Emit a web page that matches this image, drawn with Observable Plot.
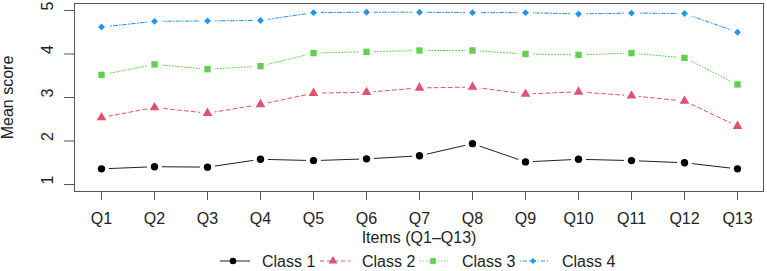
<!DOCTYPE html>
<html><head><meta charset="utf-8">
<script src="https://cdn.jsdelivr.net/npm/d3@7"></script>
<script src="https://cdn.jsdelivr.net/npm/@observablehq/plot@0.6"></script>
<style>
body{margin:0;background:#fff;font-family:"Liberation Sans",Arial,sans-serif;}
#chart svg{display:block;}
</style></head>
<body><div id="chart"></div>
<script>
const items = ["Q1","Q2","Q3","Q4","Q5","Q6","Q7","Q8","Q9","Q10","Q11","Q12","Q13"];
const classes = ["Class 1","Class 2","Class 3","Class 4"];
const class1 = [1.36,1.41,1.40,1.58,1.55,1.59,1.66,1.94,1.52,1.58,1.55,1.50,1.36];
const class2 = [2.54,2.77,2.64,2.84,3.10,3.12,3.22,3.24,3.08,3.13,3.04,2.92,2.34];
const class3 = [3.52,3.76,3.65,3.72,4.02,4.05,4.08,4.08,4.00,3.98,4.02,3.91,3.30];
const class4 = [4.62,4.75,4.76,4.77,4.95,4.96,4.96,4.95,4.95,4.92,4.94,4.93,4.50];
const yTicks = [1,2,3,4,5];
const xTitle = "Items (Q1\u2013Q13)";
const yTitle = "Mean score";

const series = [class1, class2, class3, class4];
const data = classes.flatMap((c, k) => items.map((q, i) => ({cls: c, item: q, value: series[k][i]})));

const styles = {
  "Class 1": {color: "#000000", line: "#222", dash: null, symbol: "circle", r: 3.7},
  "Class 2": {color: "#DF536B", line: "#DF536B", dash: "4,3", symbol: "triangle", r: 3.6},
  "Class 3": {color: "#61D04F", line: "#61D04F", dash: "1,2", symbol: "square", r: 3.6},
  "Class 4": {color: "#2297E6", line: "#2297E6", dash: "1,2,4,2", symbol: "diamond2", r: 3.1}
};
const font = '"Liberation Sans", Arial, sans-serif';

const marks = [Plot.frame({stroke: "#555", strokeWidth: 1})];
for (const c of classes) {
  const s = styles[c];
  marks.push(Plot.line(data.filter(d => d.cls === c), {x: "item", y: "value", stroke: s.line, strokeWidth: 1, strokeDasharray: s.dash}));
}
marks.push(Plot.dot(data, {x: "item", y: "value", r: 7.5, fill: "white", stroke: null}));
for (const c of classes) {
  const s = styles[c];
  marks.push(Plot.dot(data.filter(d => d.cls === c), {x: "item", y: "value", symbol: s.symbol, fill: s.color, stroke: null, r: s.r}));
}
marks.push(Plot.axisX({tickSize: 9, tickPadding: 12, fontSize: 16, stroke: "#555", color: "#222", label: xTitle, labelAnchor: "center", labelOffset: 51, labelArrow: "none"}));
marks.push(Plot.axisY({ticks: yTicks, tickSize: 10, tickFormat: () => "", fontSize: 16, stroke: "#555", color: "#222", label: yTitle, labelAnchor: "center", labelOffset: 73, labelArrow: "none"}));
marks.push(Plot.text(yTicks, {y: d => d, text: d => String(d), frameAnchor: "left", dx: -27, rotate: -90, fontSize: 16, fill: "#222"}));

const plot = Plot.plot({
  width: 767, height: 250,
  marginLeft: 74, marginRight: 4, marginTop: 3, marginBottom: 59,
  style: {fontFamily: font, fontSize: "16px", color: "#222", background: "white"},
  x: {type: "point", domain: items, padding: 0.48},
  y: {domain: [0.84, 5.16]},
  marks
});
document.getElementById("chart").appendChild(plot);

// legend
const lg = d3.select("#chart").append("svg").attr("width", 767).attr("height", 21)
  .style("font-family", font).style("font-size", "16px");
const startX = 220, stepX = 100, ly = 11;
const symMap = {circle: d3.symbolCircle, triangle: d3.symbolTriangle, square: d3.symbolSquare, diamond2: d3.symbolDiamond2};
classes.forEach((c, k) => {
  const s = styles[c];
  const x0 = startX + k * stepX;
  const g = lg.append("g");
  g.append("line").attr("x1", x0).attr("x2", x0 + 30).attr("y1", ly).attr("y2", ly)
    .attr("stroke", s.line).attr("stroke-width", 1).attr("stroke-dasharray", s.dash);
  g.append("path").attr("d", d3.symbol(symMap[s.symbol], Math.PI * s.r * s.r * 0.8)())
    .attr("transform", `translate(${x0 + 13},${ly})`).attr("fill", s.color);
  g.append("text").attr("x", x0 + 42).attr("y", ly).attr("dy", "0.35em").attr("fill", "#222").text(c);
});
</script></body></html>
